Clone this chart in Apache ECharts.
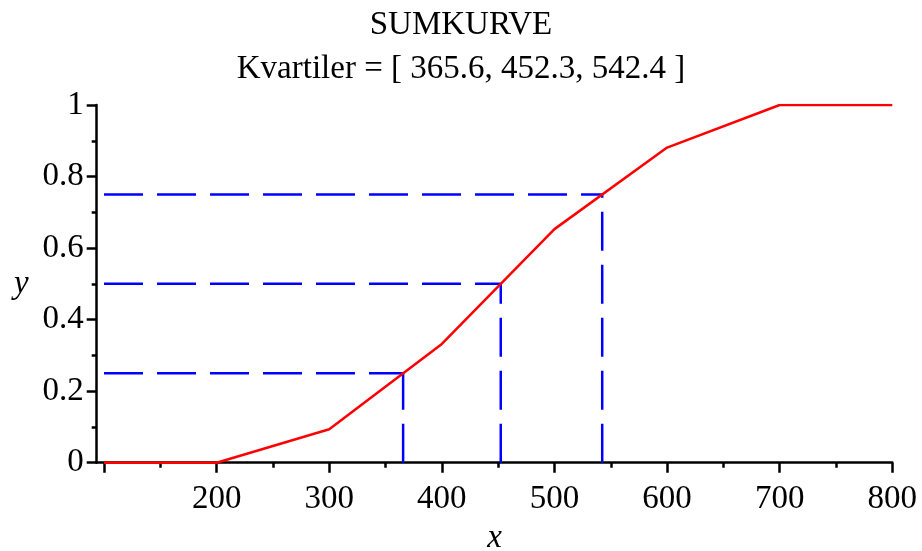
<!DOCTYPE html>
<html>
<head>
<meta charset="utf-8">
<script src="https://cdn.jsdelivr.net/npm/echarts@6/dist/echarts.min.js"></script>
<style>html,body{margin:0;padding:0;background:#fff;}#c{width:922px;height:551px;}</style>
</head>
<body>
<div id="c"></div>
<script>
// Data
var xValues = [100, 200, 300, 400, 500, 600, 700, 800];
var cumValues = [0, 0, 0.0935, 0.332, 0.653, 0.881, 1, 1];
var quartiles = [365.6, 452.3, 542.4];
var quartileLevels = [0.25, 0.5, 0.75];
var xMajorTicks = [100, 200, 300, 400, 500, 600, 700, 800];
var xLabelTicks = [200, 300, 400, 500, 600, 700, 800];
var xMinorTicks = [150, 250, 350, 450, 550, 650, 750];
var titleText = 'SUMKURVE';
var xName = 'x', yName = 'y';

var FONT = 'Liberation Serif';
var chart = echarts.init(document.getElementById('c'), null, {renderer: 'canvas'});

var series = [];
quartiles.forEach(function (q, i) {
  var lv = quartileLevels[i];
  series.push({
    type: 'line', xAxisIndex: 0, yAxisIndex: 0, symbol: 'none', silent: true,
    data: [[xValues[0], lv], [q, lv]],
    lineStyle: {color: '#0000ff', width: 2.5, type: [39, 14]}
  });
  series.push({
    type: 'line', xAxisIndex: 0, yAxisIndex: 0, symbol: 'none', silent: true,
    data: [[q, 0], [q, lv]],
    lineStyle: {color: '#0000ff', width: 2.5, type: [39, 14]}
  });
});
series.push({
  type: 'line', xAxisIndex: 0, yAxisIndex: 0, symbol: 'none', silent: true,
  data: xValues.map(function (x, i) { return [x, cumValues[i]]; }),
  lineStyle: {color: '#ff0000', width: 2.5}
});

var xMin = 93.5, xMax = 800;
var option = {
  animation: false,
  backgroundColor: '#ffffff',
  title: {
    text: titleText + '\nKvartiler = [ ' + quartiles.join(', ') + ' ]',
    left: 'center', top: -2,
    textStyle: {fontFamily: FONT, fontSize: 33, fontWeight: 'normal', color: '#000', lineHeight: 44}
  },
  grid: {left: 96.7, right: 29.7, top: 105, bottom: 88.3, containLabel: false, outerBoundsMode: 'none'},
  xAxis: [{
    type: 'value', min: xMin, max: xMax, position: 'bottom',
    name: xName, nameLocation: 'middle', nameGap: 59,
    nameTextStyle: {fontFamily: FONT, fontSize: 33, fontStyle: 'italic', color: '#000'},
    axisLine: {show: true, onZero: false, lineStyle: {color: '#000', width: 2.5}},
    axisTick: {show: true, inside: false, length: 10, lineStyle: {color: '#000', width: 2.5}, customValues: xMajorTicks},
    axisLabel: {show: true, margin: 20, fontFamily: FONT, fontSize: 33, color: '#000', customValues: xLabelTicks},
    splitLine: {show: false}
  }, {
    type: 'value', min: xMin, max: xMax, position: 'bottom', gridIndex: 0,
    axisLine: {show: false, onZero: false},
    axisTick: {show: true, inside: false, length: 5, lineStyle: {color: '#000', width: 2.5}, customValues: xMinorTicks},
    axisLabel: {show: false},
    splitLine: {show: false}
  }],
  yAxis: [{
    type: 'value', min: 0, max: 1, interval: 0.2,
    name: yName, nameLocation: 'middle', nameGap: 68, nameRotate: 0,
    nameTextStyle: {fontFamily: FONT, fontSize: 33, fontStyle: 'italic', color: '#000', padding: [10, 0, 0, 0]},
    axisLine: {show: true, onZero: false, lineStyle: {color: '#000', width: 2.5}},
    axisTick: {show: true, inside: false, length: 10, lineStyle: {color: '#000', width: 2.5}},
    minorTick: {show: true, splitNumber: 2, length: 5, lineStyle: {color: '#000', width: 2.5}},
    axisLabel: {show: true, margin: 13, fontFamily: FONT, fontSize: 33, color: '#000'},
    splitLine: {show: false}, minorSplitLine: {show: false}
  }],
  series: series
};
chart.setOption(option);
</script>
</body>
</html>
